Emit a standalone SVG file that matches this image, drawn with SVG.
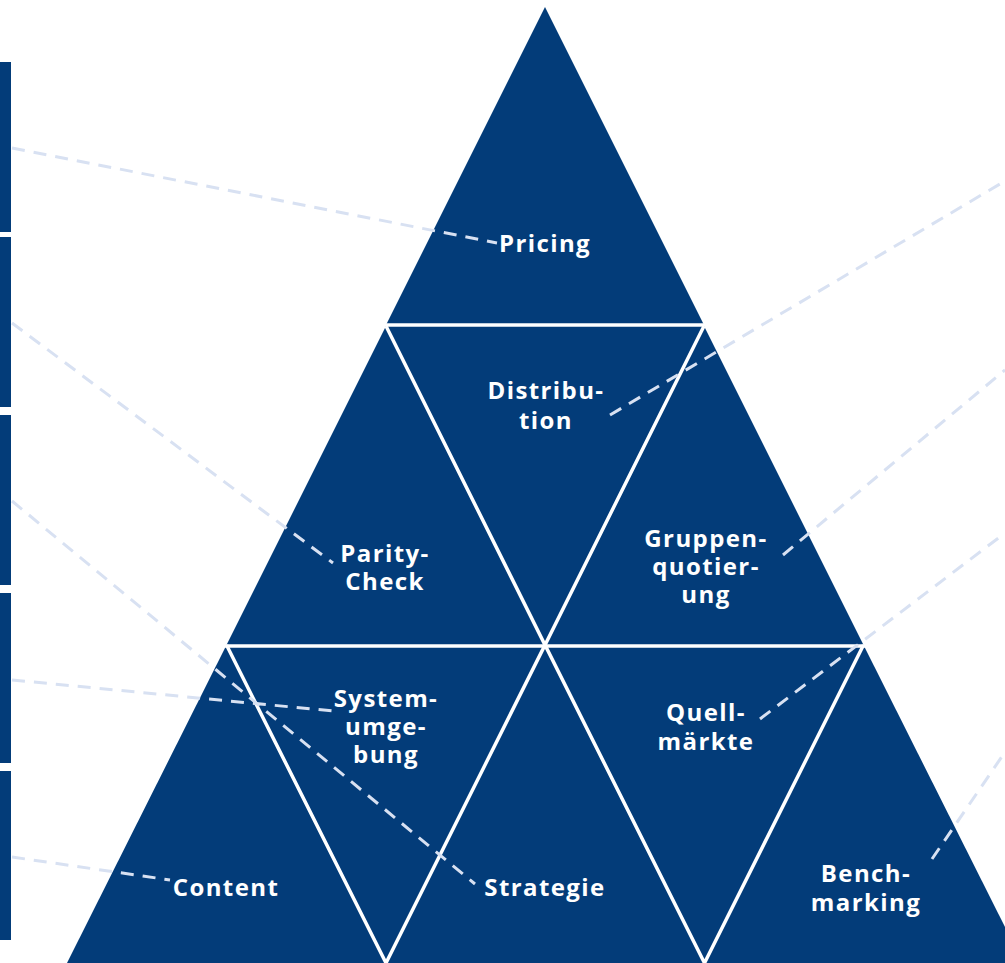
<svg xmlns="http://www.w3.org/2000/svg" width="1005" height="963" viewBox="0 0 1005 963">
  <style>
    .tri { fill: #033C79; }
    .bar { fill: #033C79; }
    .div { stroke: #FFFFFF; stroke-width: 3.5; fill: none; stroke-linecap: butt; }
    .link { stroke: #D8E1F2; stroke-width: 3; fill: none; stroke-dasharray: 13 9; }
    .lbl { font-family: "Open Sans", Lato, "Liberation Sans", sans-serif; font-weight: 700; font-size: 24px; fill: #FFFFFF; text-anchor: middle; letter-spacing: 1.4px; }
  </style>
  <rect width="1005" height="963" fill="#FFFFFF"/>

  <!-- side bars on the left edge -->
  <g id="bars">
    <rect id="bar-1" class="bar" x="0" y="62" width="11" height="170"/>
    <rect id="bar-2" class="bar" x="0" y="237" width="11" height="170"/>
    <rect id="bar-3" class="bar" x="0" y="415" width="11" height="170"/>
    <rect id="bar-4" class="bar" x="0" y="593" width="11" height="170"/>
    <rect id="bar-5" class="bar" x="0" y="771" width="11" height="169"/>
  </g>

  <!-- pyramid tiles -->
  <g id="pricing"><polygon class="tri" points="545,7 705,327 385,327"/></g>
  <g id="parity-check"><polygon class="tri" points="386,326 545,645 226.5,645"/></g>
  <g id="distribution"><polygon class="tri" points="386,326 704,326 545,645"/></g>
  <g id="gruppenquotierung"><polygon class="tri" points="704,326 863.5,645 545,645"/></g>
  <g id="content"><polygon class="tri" points="226.5,645 386,964 66.5,964"/></g>
  <g id="systemumgebung"><polygon class="tri" points="226.5,645 545,645 386,964"/></g>
  <g id="strategie"><polygon class="tri" points="545,645 704.5,964 386,964"/></g>
  <g id="quellmaerkte"><polygon class="tri" points="545,645 863.5,645 704.5,964"/></g>
  <g id="benchmarking"><polygon class="tri" points="863.5,645 1023.5,964 704.5,964"/></g>

  <!-- white separators between tiles -->
  <g id="dividers">
    <line class="div" x1="378" y1="325" x2="712" y2="325" stroke-width="5"/>
    <line class="div" x1="218" y1="646" x2="872" y2="646"/>
    <polyline class="div" points="386,326 545,645 704,326"/>
    <polyline class="div" points="226.5,645 386,963 545,645 704.5,963 863.5,645"/>
  </g>

  <!-- dashed connectors -->
  <g id="connectors">
    <line class="link" x1="12" y1="148" x2="497" y2="243"/>
    <line class="link" x1="12" y1="323" x2="333" y2="563"/>
    <line class="link" x1="12" y1="501" x2="475" y2="884"/>
    <line class="link" x1="12" y1="680" x2="333" y2="711"/>
    <line class="link" x1="12" y1="857" x2="170" y2="880"/>
    <line class="link" x1="610" y1="415" x2="1005" y2="181"/>
    <line class="link" x1="783" y1="555" x2="1005" y2="370"/>
    <line class="link" x1="760" y1="719" x2="1005" y2="533"/>
    <line class="link" x1="932" y1="859" x2="1005" y2="752"/>
  </g>

  <!-- tile labels -->
  <g id="labels">
    <text class="lbl" x="545" y="252">Pricing</text>
    <text class="lbl"><tspan x="546" y="399">Distribu-</tspan><tspan x="546" y="429">tion</tspan></text>
    <text class="lbl"><tspan x="385" y="562">Parity-</tspan><tspan x="385" y="590">Check</tspan></text>
    <text class="lbl"><tspan x="706" y="547">Gruppen-</tspan><tspan x="706" y="575">quotier-</tspan><tspan x="706" y="603">ung</tspan></text>
    <text class="lbl"><tspan x="386" y="707">System-</tspan><tspan x="386" y="735">umge-</tspan><tspan x="386" y="763">bung</tspan></text>
    <text class="lbl"><tspan x="706" y="721">Quell-</tspan><tspan x="706" y="750">märkte</tspan></text>
    <text class="lbl" x="226" y="896">Content</text>
    <text class="lbl" x="545" y="896">Strategie</text>
    <text class="lbl"><tspan x="866" y="882">Bench-</tspan><tspan x="866" y="911">marking</tspan></text>
  </g>
</svg>
